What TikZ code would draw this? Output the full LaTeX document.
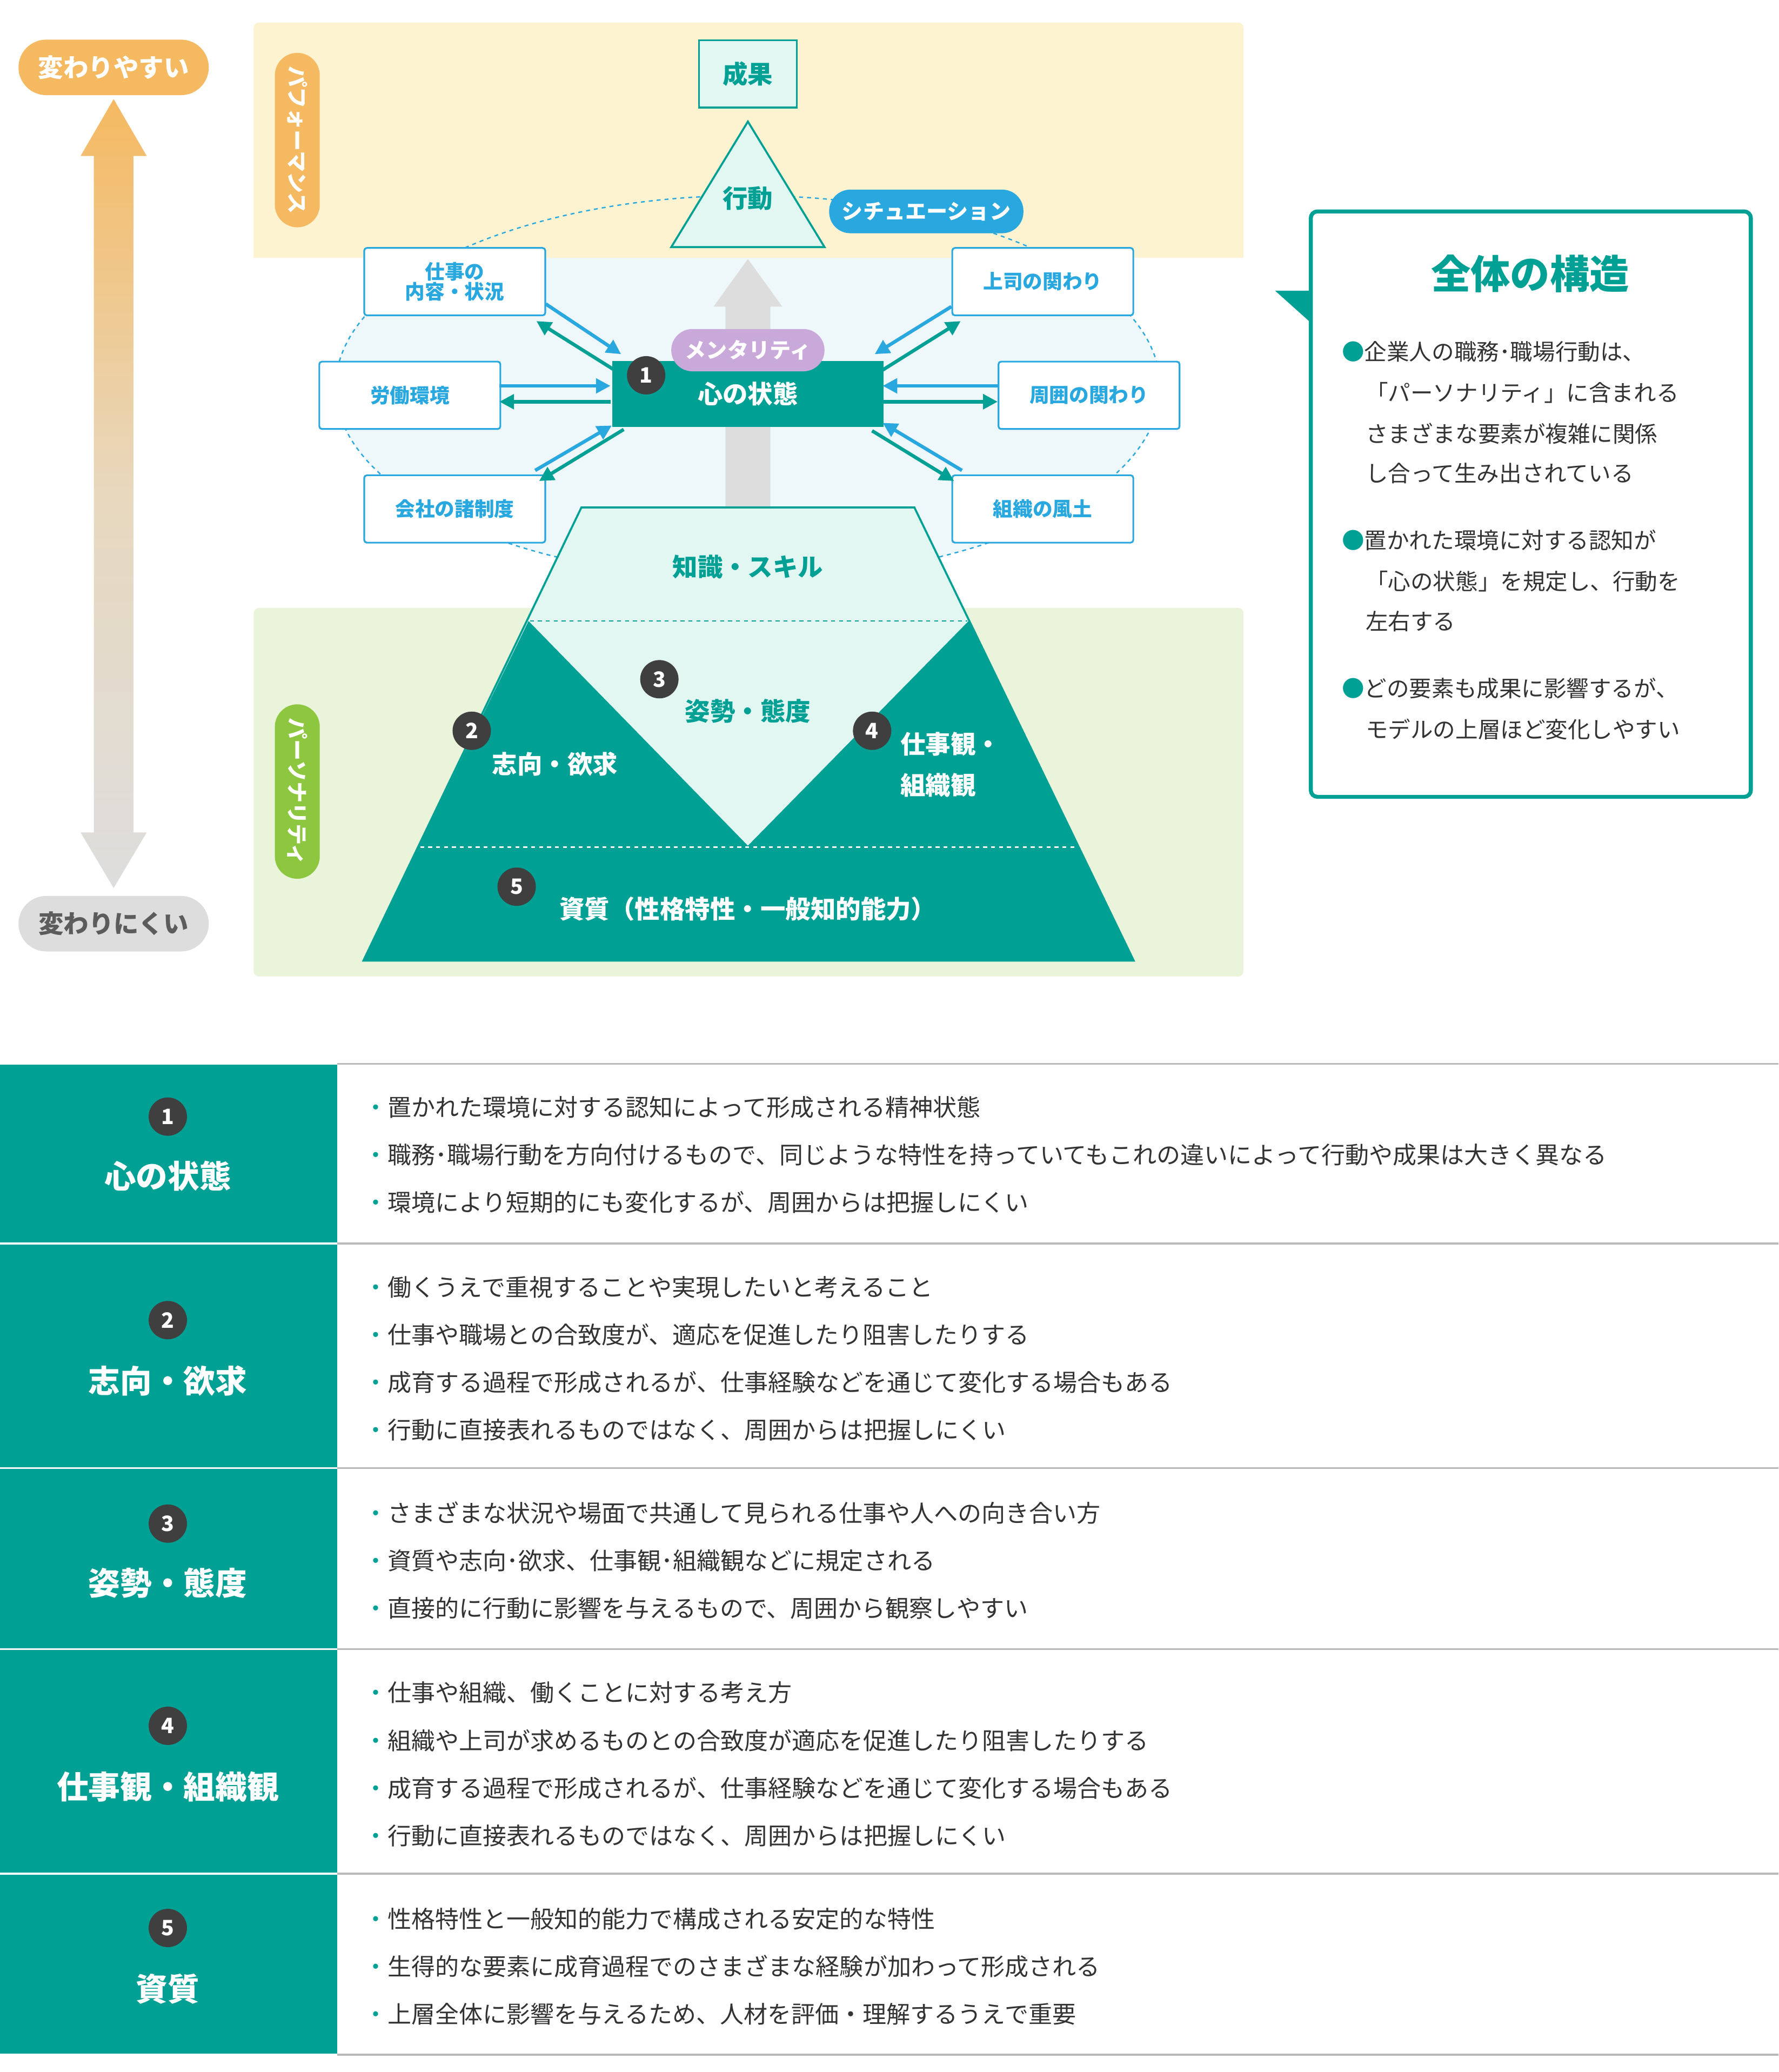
\documentclass[tikz,border=0pt]{standalone}
\usepackage{fontspec}
\setmainfont{Noto Sans CJK JP}
\usetikzlibrary{arrows.meta}
\definecolor{teal}{HTML}{00A095}
\definecolor{lteal}{HTML}{E2F6F2}
\definecolor{blu}{HTML}{29A8E0}
\definecolor{org}{HTML}{F5B961}
\definecolor{perf}{HTML}{FEF3D0}
\definecolor{pers}{HTML}{EAF4DA}
\definecolor{grn}{HTML}{8DC63F}
\definecolor{purp}{HTML}{C9A8DA}
\definecolor{dk}{HTML}{3F3F3F}
\definecolor{txt}{HTML}{333333}
\definecolor{gr}{HTML}{DDDDDD}
\definecolor{ell}{HTML}{EEF7FA}
\tikzset{
 envbox/.style={draw=blu,line width=1.3pt,fill=white,rounded corners=2pt,minimum width=137pt,minimum height=51pt,text=blu,font=\fontsize{15}{18}\selectfont\bfseries,align=center,anchor=north west},
 numc/.style={circle,fill=dk,text=white,minimum size=29pt,inner sep=0pt,font=\fontsize{16}{16}\selectfont\bfseries},
 barr/.style={draw=blu,line width=2.6pt,-{Triangle[length=11pt,width=11pt]}},
 tarr/.style={draw=teal,line width=2.6pt,-{Triangle[length=11pt,width=11pt]}},
 bl/.style={anchor=west,text=txt,font=\fontsize{18}{20}\selectfont},
 rtitle/.style={text=white,font=\fontsize{24}{26}\selectfont\bfseries},
 ptxt/.style={anchor=west,text=txt,font=\fontsize{17}{20}\selectfont},
}
\newcommand\myblt[2]{\node[bl] at (272,#1) {{\color{teal}・}#2};}
\begin{document}
\begin{tikzpicture}[x=1pt,y=-1pt]
\useasboundingbox (0,0) rectangle (1346,1568);
% bands
\fill[perf,rounded corners=4pt] (192,17) rectangle (941,195);
\fill[pers,rounded corners=4pt] (192,460) rectangle (941,739);
\fill[ell] (566,293) ellipse [x radius=312, y radius=145];
\fill[perf] (192,140) rectangle (941,195);
\draw[blu,dashed,line width=1pt] (566,293) ellipse [x radius=312, y radius=145];
\node[fill=org,rounded corners=17pt,minimum width=34pt,minimum height=132pt,inner sep=0pt] (perfl) at (225,106) {};
\node[rotate=-90,text=white,font=\fontsize{16}{16}\selectfont\bfseries] at (perfl) {パフォーマンス};
\node[fill=grn,rounded corners=17pt,minimum width=34pt,minimum height=132pt,inner sep=0pt] (persl) at (225,599) {};
\node[rotate=-90,text=white,font=\fontsize{16}{16}\selectfont\bfseries] at (persl) {パーソナリティ};
% left arrow
\shade[top color=org,bottom color=gr,middle color={rgb,255:red,232;green,216;blue,190}] (86,75)--(111,118)--(101,118)--(101,630)--(111,630)--(86,672)--(61,630)--(71,630)--(71,118)--(61,118)--cycle;
\node[fill=org,rounded corners=21pt,minimum width=144pt,minimum height=42pt,text=white,font=\fontsize{19}{20}\selectfont\bfseries] (easy) at (86,51) {変わりやすい};
\node[fill=gr,rounded corners=21pt,minimum width=144pt,minimum height=42pt,text=txt!80,font=\fontsize{19}{20}\selectfont\bfseries] (hard) at (86,699) {変わりにくい};
% gray arrow up
\fill[gr] (566,196)--(592,232)--(583,232)--(583,384)--(549,384)--(549,232)--(540,232)--cycle;
% result
\node[draw=teal,line width=1.5pt,fill=lteal,minimum width=74pt,minimum height=51pt,text=teal,font=\fontsize{19}{20}\selectfont\bfseries] (res) at (566,56) {成果};
\draw[teal,line width=1.5pt,fill=lteal] (566,92)--(624,187)--(508,187)--cycle;
\node[text=teal,font=\fontsize{19}{20}\selectfont\bfseries] (act) at (566,150) {行動};
\node[fill=blu,rounded corners=16pt,minimum width=147pt,minimum height=33pt,text=white,font=\fontsize{16}{17}\selectfont\bfseries] (sit) at (701,160) {シチュエーション};
% env boxes
\node[envbox] (b1) at (275,187) {仕事の\\[-3pt]内容・状況};
\node[envbox] (b2) at (241,273) {労働環境};
\node[envbox] (b3) at (275,359) {会社の諸制度};
\node[envbox] (b4) at (720,187) {上司の関わり};
\node[envbox] (b5) at (755,273) {周囲の関わり};
\node[envbox] (b6) at (720,359) {組織の風土};
% arrows
\draw[barr] (413,230)--(470,268);
\draw[tarr] (465,280)--(406,243);
\draw[barr] (378,292)--(462,292);
\draw[tarr] (462,304)--(378,304);
\draw[barr] (405,356)--(463,322);
\draw[tarr] (472,325)--(408,364);
\draw[barr] (720,232)--(662,268);
\draw[tarr] (668,280)--(727,243);
\draw[barr] (755,292)--(668,292);
\draw[tarr] (668,304)--(755,304);
\draw[barr] (728,356)--(668,320);
\draw[tarr] (660,326)--(722,364);
% mind
\node[fill=teal,minimum width=205pt,minimum height=50pt,text=white,font=\fontsize{19}{20}\selectfont\bfseries] (mind) at (566,298) {心の状態};
\node[fill=purp,rounded corners=16pt,minimum width=116pt,minimum height=32pt,text=white,font=\fontsize{16}{17}\selectfont\bfseries] (ment) at (566,265) {メンタリティ};
\node[numc] (n1) at (489,284) {1};
% pyramid
\draw[teal,line width=1.5pt,fill=lteal] (440,384)--(692,384)--(858,727)--(275,727)--cycle;
\fill[teal] (400,470)--(566,640)--(733,470)--(858,727)--(275,727)--cycle;
\draw[teal,dashed,line width=0.8pt] (401,470)--(732,470);
\draw[white,dashed,line width=1pt] (318,641)--(815,641);
\node[text=teal,font=\fontsize{19}{20}\selectfont\bfseries] (ks) at (566,429) {知識・スキル};
\node[numc] (n3) at (499,514) {3};
\node[text=teal,font=\fontsize{19}{20}\selectfont\bfseries] (st) at (566,538) {姿勢・態度};
\node[numc] (n2) at (357,553) {2};
\node[text=white,font=\fontsize{19}{20}\selectfont\bfseries] (sh) at (420,578) {志向・欲求};
\node[numc] (n4) at (660,553) {4};
\node[text=white,font=\fontsize{19}{20}\selectfont\bfseries,anchor=west] (wv) at (678,563) {仕事観・};
\node[text=white,font=\fontsize{19}{20}\selectfont\bfseries,anchor=west] (ov) at (678,594) {組織観};
\node[numc] (n5) at (391,671) {5};
\node[text=white,font=\fontsize{19}{20}\selectfont\bfseries] (sq) at (566,688) {資質（性格特性・一般知的能力）};
% right box
\fill[teal] (965,220)--(994,220)--(994,246)--cycle;
\draw[teal,line width=3pt,fill=white,rounded corners=5pt] (992,160) rectangle (1325,603);
\node[text=teal,font=\fontsize{30}{32}\selectfont\bfseries] (ttl) at (1158,207) {全体の構造};
\node[ptxt] at (1012,266) {{\color{teal}●}企業人の職務･職場行動は、};
\node[ptxt] at (1030,297) {「パーソナリティ」に含まれる};
\node[ptxt] at (1030,328) {さまざまな要素が複雑に関係};
\node[ptxt] at (1030,358) {し合って生み出されている};
\node[ptxt] at (1012,409) {{\color{teal}●}置かれた環境に対する認知が};
\node[ptxt] at (1030,440) {「心の状態」を規定し、行動を};
\node[ptxt] at (1030,470) {左右する};
\node[ptxt] at (1012,521) {{\color{teal}●}どの要素も成果に影響するが、};
\node[ptxt] at (1030,552) {モデルの上層ほど変化しやすい};
% table
\fill[teal] (0,805) rectangle (255,1555);
\foreach \y in {805,941,1111,1248,1418,1555} {
 \draw[gray!55,line width=1.5pt] (255,\y)--(1346,\y);
 \draw[white,line width=1.5pt] (0,\y)--(255,\y);
}
\node[numc] (t1) at (127,845) {1};
\node[rtitle] (h1) at (127,890) {心の状態};
\node[numc] (t2) at (127,999) {2};
\node[rtitle] (h2) at (127,1045) {志向・欲求};
\node[numc] (t3) at (127,1153) {3};
\node[rtitle] (h3) at (127,1198) {姿勢・態度};
\node[numc] (t4) at (127,1306) {4};
\node[rtitle] (h4) at (127,1352) {仕事観・組織観};
\node[numc] (t5) at (127,1459) {5};
\node[rtitle] (h5) at (127,1505) {資質};
\myblt{838}{置かれた環境に対する認知によって形成される精神状態}
\myblt{874}{職務･職場行動を方向付けるもので、同じような特性を持っていてもこれの違いによって行動や成果は大きく異なる}
\myblt{910}{環境により短期的にも変化するが、周囲からは把握しにくい}
\myblt{974}{働くうえで重視することや実現したいと考えること}
\myblt{1010}{仕事や職場との合致度が、適応を促進したり阻害したりする}
\myblt{1046}{成育する過程で形成されるが、仕事経験などを通じて変化する場合もある}
\myblt{1082}{行動に直接表れるものではなく、周囲からは把握しにくい}
\myblt{1145}{さまざまな状況や場面で共通して見られる仕事や人への向き合い方}
\myblt{1181}{資質や志向･欲求、仕事観･組織観などに規定される}
\myblt{1217}{直接的に行動に影響を与えるもので、周囲から観察しやすい}
\myblt{1281}{仕事や組織、働くことに対する考え方}
\myblt{1317}{組織や上司が求めるものとの合致度が適応を促進したり阻害したりする}
\myblt{1353}{成育する過程で形成されるが、仕事経験などを通じて変化する場合もある}
\myblt{1389}{行動に直接表れるものではなく、周囲からは把握しにくい}
\myblt{1452}{性格特性と一般知的能力で構成される安定的な特性}
\myblt{1488}{生得的な要素に成育過程でのさまざまな経験が加わって形成される}
\myblt{1524}{上層全体に影響を与えるため、人材を評価・理解するうえで重要}
\end{tikzpicture}
\end{document}
